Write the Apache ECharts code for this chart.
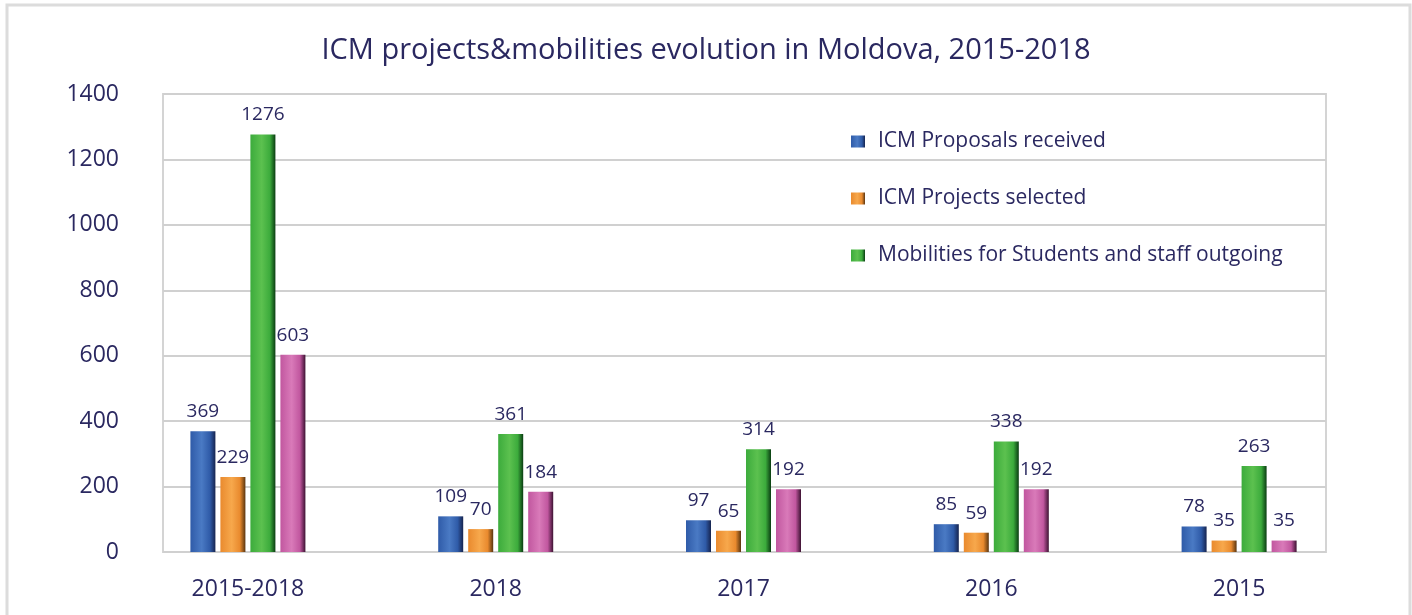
<!DOCTYPE html>
<html>
<head>
<meta charset="utf-8">
<title>ICM projects&amp;mobilities evolution in Moldova</title>
<script src="https://cdn.jsdelivr.net/npm/echarts@6/dist/echarts.min.js"></script>
<style>
  html, body { margin: 0; padding: 0; background: #fff; }
  #chart { width: 1412px; height: 615px; }
</style>
</head>
<body>
<div id="chart"></div>
<script>
  // data
  const categories = ['2015-2018', '2018', '2017', '2016', '2015']
  const proposals = [369, 109, 97, 85, 78]
  const selected = [229, 70, 65, 59, 35]
  const mobilities = [1276, 361, 314, 338, 263]
  const fourth = [603, 184, 192, 192, 35]
  const yTicks = [0, 200, 400, 600, 800, 1000, 1200, 1400]

  const textColor = '#2a2860'
  const font = '"Open Sans", "Noto Sans", sans-serif'

  // bevel-ish look: light middle, dark right edge
  function bevel(left, mid, right) {
    return new echarts.graphic.LinearGradient(0, 0, 1, 0, [
      { offset: 0, color: left },
      { offset: 0.45, color: mid },
      { offset: 0.78, color: left },
      { offset: 1, color: right }
    ])
  }

  const colors = {
    blue: bevel('#2f5ba8', '#4a7ac4', '#16244f'),
    orange: bevel('#e98a2e', '#f7a84c', '#5a3510'),
    green: bevel('#3cab3c', '#5cc14f', '#0a3d12'),
    pink: bevel('#c1579f', '#d97ab9', '#3d1232')
  }

  function barSeries(name, data, color) {
    return {
      name: name,
      type: 'bar',
      xAxisIndex: 1,
      yAxisIndex: 1,
      data: data,
      barWidth: 25,
      barGap: '20%',
      itemStyle: { color: color },
      label: {
        show: true,
        position: 'top',
        distance: 10,
        color: textColor,
        fontFamily: font,
        fontSize: 19
      }
    }
  }

  const chart = echarts.init(document.getElementById('chart'))
  chart.setOption({
    animation: false,
    backgroundColor: '#fff',
    title: {
      text: 'ICM projects&mobilities evolution in Moldova, 2015-2018',
      left: 'center',
      top: 31,
      textStyle: { color: textColor, fontFamily: font, fontSize: 29, fontWeight: 'normal' }
    },
    legend: {
      data: ['ICM Proposals received', 'ICM Projects selected', 'Mobilities for Students and staff outgoing'],
      orient: 'vertical',
      left: 846,
      top: 126,
      itemGap: 36,
      itemWidth: 14,
      itemHeight: 12,
      icon: 'rect',
      textStyle: { color: textColor, fontFamily: font, fontSize: 21, padding: [0, 0, 0, 8] }
    },
    graphic: [{
      type: 'rect',
      shape: { x: 7, y: 5, width: 1403, height: 620 },
      style: { fill: 'none', stroke: '#dcdcdc', lineWidth: 3 },
      silent: true
    }],
    grid: [
      { left: 163, top: 94, width: 1163, height: 458, show: true, borderColor: '#d4d4d4', borderWidth: 2, backgroundColor: 'transparent' },
      { left: 124, top: 94, width: 1239, height: 458 }
    ],
    xAxis: [
      { type: 'category', gridIndex: 0, data: categories, show: false },
      {
        type: 'category',
        gridIndex: 1,
        data: categories,
        axisLine: { show: false },
        axisTick: { show: false },
        axisLabel: { color: textColor, fontFamily: font, fontSize: 23, margin: 26 }
      }
    ],
    yAxis: [
      {
        type: 'value',
        gridIndex: 0,
        min: yTicks[0],
        max: yTicks[yTicks.length - 1],
        interval: 200,
        axisLine: { show: false },
        axisTick: { show: false },
        axisLabel: { color: textColor, fontFamily: font, fontSize: 23, margin: 44, formatter: v => String(v) },
        splitLine: { lineStyle: { color: '#d0d0d0', width: 2 } }
      },
      {
        type: 'value',
        gridIndex: 1,
        min: yTicks[0],
        max: yTicks[yTicks.length - 1],
        interval: 200,
        show: false,
        splitLine: { show: false }
      }
    ],
    series: [
      barSeries('ICM Proposals received', proposals, colors.blue),
      barSeries('ICM Projects selected', selected, colors.orange),
      barSeries('Mobilities for Students and staff outgoing', mobilities, colors.green),
      barSeries('Series 4', fourth, colors.pink)
    ]
  })
</script>
</body>
</html>
